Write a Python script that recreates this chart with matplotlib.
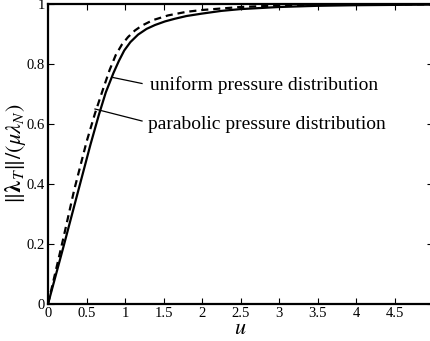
import matplotlib
matplotlib.use("Agg")
import matplotlib.pyplot as plt

# uniform pressure distribution (solid)
u_uniform = [0, 0.2, 0.38, 0.55, 0.66, 0.75, 0.85, 0.92, 0.99, 1.07, 1.17, 1.28, 1.39,
             1.52, 1.65, 1.8, 2.0, 2.25, 2.5, 3.0, 3.5, 4.0, 4.5, 5.0]
v_uniform = [0, 0.19, 0.365, 0.53, 0.63, 0.705, 0.77, 0.81, 0.845, 0.873, 0.898, 0.917, 0.93,
             0.942, 0.951, 0.96, 0.968, 0.977, 0.983, 0.99, 0.994, 0.996, 0.997, 0.998]
# parabolic pressure distribution (dashed)
u_parab = [0, 0.2, 0.34, 0.5, 0.61, 0.72, 0.8, 0.88, 0.96, 1.04, 1.13, 1.22, 1.36, 1.56,
           1.8, 2.0, 2.5, 3.0, 3.5, 4.0, 4.5, 5.0]
v_parab = [0, 0.22, 0.38, 0.54, 0.635, 0.72, 0.78, 0.83, 0.865, 0.89, 0.912, 0.928, 0.946, 0.962,
           0.974, 0.98, 0.99, 0.995, 0.997, 0.998, 0.999, 0.999]

xticks = [0, 0.5, 1, 1.5, 2, 2.5, 3, 3.5, 4, 4.5, 5]
xticklabels = ["0", "0.5", "1", "1.5", "2", "2.5", "3", "3.5", "4", "4.5", "5"]
yticks = [0, 0.2, 0.4, 0.6, 0.8, 1]
yticklabels = ["0", "0.2", "0.4", "0.6", "0.8", "1"]

plt.rcParams['font.family'] = ['Liberation Serif', 'DejaVu Serif']
plt.rcParams['mathtext.fontset'] = 'stix'

fig = plt.figure(figsize=(4.30, 3.41), dpi=100)
ax = fig.add_axes([48/430, 37/341, 385/430, 300/341])

ax.plot(u_uniform, v_uniform, color='black', lw=1.6, solid_capstyle='butt')
ax.plot(u_parab, v_parab, color='black', lw=1.6, ls=(0, (3.2, 2.2)))

ax.set_xlim(0, 5)
ax.set_ylim(0, 1)
ax.set_xticks(xticks)
ax.set_xticklabels(xticklabels)
ax.set_yticks(yticks)
ax.set_yticklabels(yticklabels)
ax.tick_params(direction='in', top=True, right=True, length=4, width=0.8,
               labelsize=10.5, pad=2)
for s in ax.spines.values():
    s.set_linewidth(1.6)

ax.set_xlabel(r'$u$', fontsize=16, labelpad=0)
ax.set_ylabel(r'$\|\boldsymbol{\lambda}_T\|/(\mu\lambda_N)$', fontsize=16, labelpad=-1)

ax.plot([0.844, 1.221], [0.755, 0.735], color='black', lw=0.9)
ax.plot([0.61, 1.221], [0.65, 0.61], color='black', lw=0.9)
ax.text(1.325, 0.73, 'uniform pressure distribution', fontsize=14, va='center', ha='left')
ax.text(1.30, 0.597, 'parabolic pressure distribution', fontsize=14, va='center', ha='left')

fig.savefig('out.png', dpi=100)
